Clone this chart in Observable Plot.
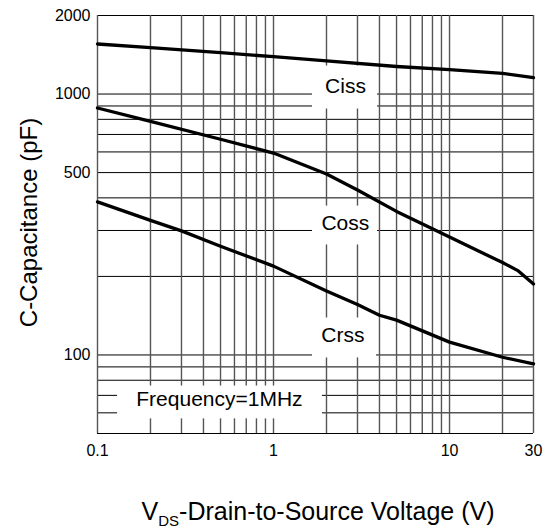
<!DOCTYPE html>
<html>
<head>
<meta charset="utf-8">
<script src="https://cdn.jsdelivr.net/npm/d3@7"></script>
<script src="https://cdn.jsdelivr.net/npm/@observablehq/plot@0.6"></script>
<style>
  html, body { margin: 0; padding: 0; background: #fff; }
  #chart { width: 544px; height: 531px; }
</style>
</head>
<body>
<div id="chart"></div>
<script>
// ---- data ----
const vCiss = [0.1, 0.2, 0.5, 1, 2, 5, 10, 20, 30];
const ciss  = [1555, 1505, 1440, 1390, 1340, 1275, 1240, 1200, 1155];

const vCoss = [0.1, 0.2, 0.5, 1, 2, 3, 5, 10, 20, 24.6, 30];
const coss  = [884, 785, 671, 594, 494, 429, 355, 283, 226, 210, 187];

const vCrss = [0.1, 0.2, 0.3, 0.5, 1, 2, 3, 4, 5, 10, 20, 30];
const crss  = [386, 328, 299, 261, 219, 176, 156, 142, 136, 112, 98, 92.5];

const xGrid = [0.1, 0.2, 0.3, 0.4, 0.5, 0.6, 0.7, 0.8, 0.9, 1, 2, 3, 4, 5, 6, 7, 8, 9, 10, 20, 30];
const yGrid = [50, 60, 70, 80, 90, 100, 200, 300, 400, 500, 600, 700, 800, 900, 1000, 2000];

const xTicks = [0.1, 1, 10, 30];
const yTicks = [100, 500, 1000, 2000];

const labelText = ["Ciss", "Coss", "Crss", "Frequency=1MHz"];
const labelV    = [2.565, 2.56, 2.48, 0.493];
const labelC    = [1068, 319, 119, 67.7];
const boxV1     = [1.665, 1.665, 1.665, 0.130];
const boxV2     = [3.90, 3.90, 3.85, 1.897];
const boxC1     = [876, 264, 97.4, 56.9];
const boxC2     = [1280, 372, 138.6, 76.0];

const yTitle = "C-Capacitance (pF)";

// ---- tables built from the arrays ----
const series = [
  ...vCiss.map((v, i) => ({v, c: ciss[i], s: "Ciss"})),
  ...vCoss.map((v, i) => ({v, c: coss[i], s: "Coss"})),
  ...vCrss.map((v, i) => ({v, c: crss[i], s: "Crss"}))
];
const labels = labelText.map((t, i) => ({
  t, v: labelV[i], c: labelC[i], v1: boxV1[i], v2: boxV2[i], c1: boxC1[i], c2: boxC2[i]
}));

const font = "'Liberation Sans', Arial, Helvetica, sans-serif";

const chart = Plot.plot({
  width: 544,
  height: 531,
  marginTop: 15,
  marginLeft: 97,
  marginRight: 11,
  marginBottom: 98,
  style: {fontFamily: font, background: "#fff", color: "#000"},
  x: {type: "log", domain: [0.1, 30]},
  y: {type: "log", domain: [50, 2000]},
  marks: [
    Plot.ruleY(yGrid, {stroke: "#000", strokeWidth: 1}),
    Plot.ruleX(xGrid, {stroke: "#555", strokeWidth: 1.4}),
    Plot.rect(labels, {x1: "v1", x2: "v2", y1: "c1", y2: "c2", fill: "#fff"}),
    Plot.line(series, {x: "v", y: "c", z: "s", stroke: "#000", strokeWidth: 3.3, strokeLinejoin: "round"}),
    Plot.text(labels, {x: "v", y: "c", text: "t", fontSize: 21, fill: "#000"}),
    Plot.axisX({ticks: xTicks, tickSize: 0, tickPadding: 11, tickFormat: d => String(d), fontSize: 16, label: null}),
    Plot.axisY({ticks: yTicks, tickSize: 0, tickPadding: 7, tickFormat: d => String(d), fontSize: 16, label: null}),
    Plot.text([yTitle], {frameAnchor: "left", textAnchor: "middle", dx: -68, dy: -2, rotate: -90, text: d => d, fontSize: 24, fill: "#000"})
  ]
});

document.getElementById("chart").appendChild(chart);

// x-axis title with subscript
const svg = d3.select(chart);
const t = svg.append("text")
  .attr("x", 318).attr("y", 520)
  .attr("text-anchor", "middle")
  .attr("font-family", font)
  .attr("font-size", 25)
  .attr("fill", "#000");
t.append("tspan").text("V");
t.append("tspan").attr("font-size", 15).attr("dy", 6).text("DS");
t.append("tspan").attr("dy", -6).text("-Drain-to-Source Voltage (V)");
</script>
</body>
</html>
